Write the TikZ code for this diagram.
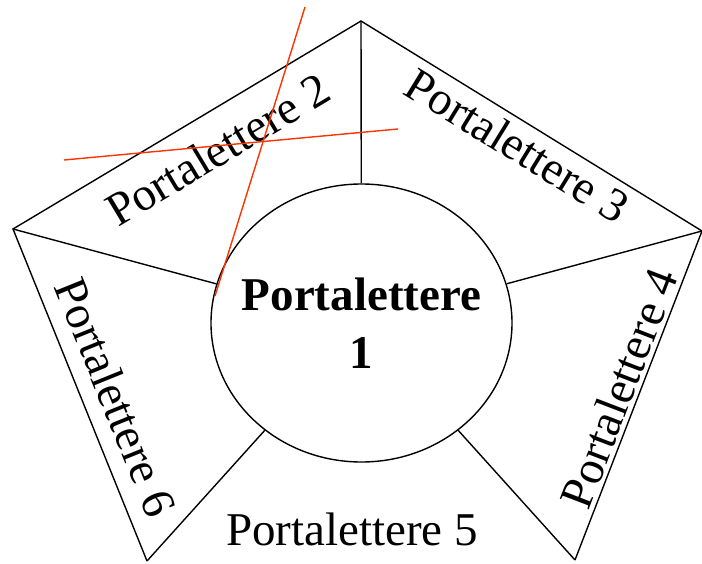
\documentclass[tikz,border=0pt]{standalone}
\usepackage{fontspec}
\setmainfont{Liberation Serif}
\usetikzlibrary{shapes.geometric}
\definecolor{strikered}{RGB}{255,51,0}

\begin{document}
\begin{tikzpicture}[x=1pt,y=-1pt,line width=1.4pt,
  every node/.style={font=\fontsize{47}{58}\selectfont,inner sep=0pt},
  lbl/.style={anchor=base},
  hub/.style={ellipse,draw,inner sep=-40pt,minimum width=301pt,minimum height=278pt,
    align=center,font=\fontsize{47}{58}\selectfont\bfseries},
  strike/.style={draw=strikered,line width=1.4pt}]
  \useasboundingbox (0,0) rectangle (702,563);
  % corners of the open pentagon
  \coordinate (t) at (361,21);
  \coordinate (r) at (702,231);
  \coordinate (br) at (575,560);
  \coordinate (bl) at (147,561);
  \coordinate (l) at (13,229);
  \node[hub] (p1) at (361.5,323) {Portalettere\\1};
  \draw (br) -- (r) -- (t) -- (l) -- (bl);
  \path
  (t) edge (p1)
  (r) edge (p1)
  (br) edge (p1)
  (bl) edge (p1)
  (l) edge (p1)
  ;
  \node[lbl,rotate=31] (p2) at (226,163) {Portalettere 2};
  \node[lbl,rotate=-31.6] (p3) at (509,159) {Portalettere 3};
  \node[lbl,rotate=69] (p4) at (634,394) {Portalettere 4};
  \node[lbl] (p5) at (352,545) {Portalettere 5};
  \node[lbl,rotate=-68] (p6) at (101,403) {Portalettere 6};
  % crossed out
  \coordinate (s1) at (305,7);
  \coordinate (s2) at (215,296);
  \coordinate (s3) at (64,160);
  \coordinate (s4) at (398,129);
  \draw[strike] (s1) -- (s2);
  \draw[strike] (s3) -- (s4);
\end{tikzpicture}
\end{document}
